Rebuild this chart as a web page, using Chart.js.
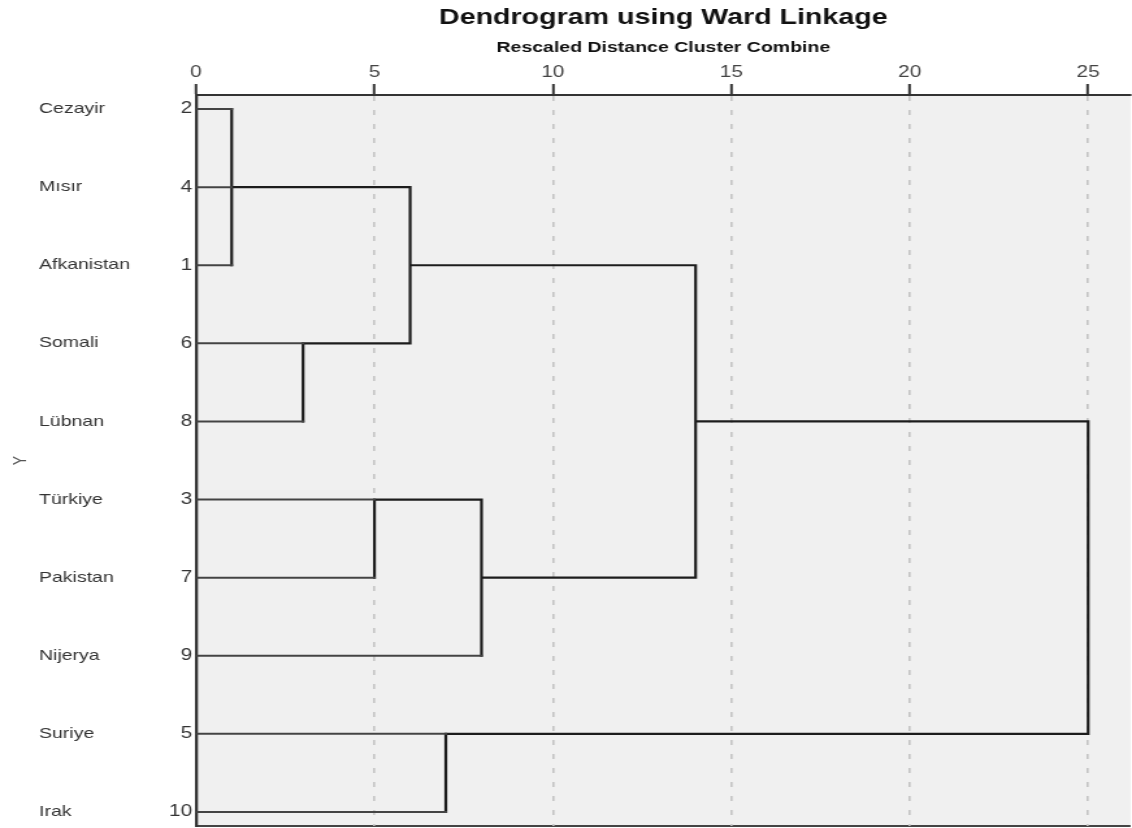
<!DOCTYPE html>
<html lang="tr">
<head>
    <meta charset="UTF-8">
    <title>Dendrogram using Ward Linkage</title>
    <script src="https://cdn.jsdelivr.net/npm/chart.js"></script>
    <style>
        html, body {
            margin: 0;
            padding: 0;
            overflow: hidden;
            background: #ffffff;
        }

        /* the original picture is stretched sideways, so the chart is drawn narrow and scaled */
        .wrap {
            width: 871px;
            height: 828px;
            transform: scaleX(1.2997);
            transform-origin: 0 0;
        }
    </style>
</head>
<body>
<div class="wrap">
    <canvas id="dendro"></canvas>
</div>

<script>
    // Cases in the order SPSS lists them
    const caseNames = ['Cezayir', 'Mısır', 'Afkanistan', 'Somali', 'Lübnan', 'Türkiye', 'Pakistan', 'Nijerya', 'Suriye', 'Irak'];
    const caseNumbers = [2, 4, 1, 6, 8, 3, 7, 9, 5, 10];
    // Rescaled distance where each case first joins a cluster
    const leafDistance = [1, 1, 1, 3, 3, 5, 5, 8, 7, 7];

    // Merge steps: distance, rows joined by the vertical line,
    // row that carries the new cluster, and distance of its next merge
    const mergeDistance = [1, 3, 6, 5, 8, 14, 7, 25];
    const mergeTop = [0, 3, 1, 5, 5, 2, 8, 4];
    const mergeBottom = [2, 4, 3, 6, 7, 6, 9, 8];
    const mergeRow = [1, 3, 2, 5, 6, 4, 8, null];
    const mergeNext = [6, 6, 14, 8, 14, 25, 25, null];

    const xTicks = [0, 5, 10, 15, 20, 25];

    const gap = {x: null, y: null};

    function leafLines() {
        const pts = [];
        caseNames.forEach((n, row) => {
            pts.push({x: 0, y: row}, {x: leafDistance[row], y: row}, gap);
        });
        return pts;
    }

    function mergeLines() {
        const pts = [];
        mergeDistance.forEach((d, i) => {
            pts.push({x: d, y: mergeTop[i]}, {x: d, y: mergeBottom[i]}, gap);
            if (mergeNext[i] !== null) {
                pts.push({x: d, y: mergeRow[i]}, {x: mergeNext[i], y: mergeRow[i]}, gap);
            }
        });
        return pts;
    }

    const rowTicks = scale => {
        scale.ticks = caseNames.map((n, i) => ({value: i}));
    };

    // fixed axis width, and no extra padding for the end labels
    const fixWidth = w => scale => {
        scale.width = w;
        scale.paddingTop = 0;
        scale.paddingBottom = 0;
    };

    // grey plot background and the bottom frame line
    const plotBackground = {
        id: 'plotBackground',
        beforeDraw(chart) {
            const {ctx, chartArea: a} = chart;
            ctx.save();
            ctx.fillStyle = '#f0f0f0';
            ctx.fillRect(a.left, a.top, a.right - a.left, a.bottom - a.top);
            ctx.strokeStyle = '#444444';
            ctx.lineWidth = 2;
            ctx.beginPath();
            ctx.moveTo(a.left, a.bottom);
            ctx.lineTo(a.right, a.bottom);
            ctx.stroke();
            ctx.restore();
        }
    };

    Chart.defaults.font.family = "'Liberation Sans', Arial, sans-serif";
    Chart.defaults.color = '#333333';

    new Chart(document.getElementById('dendro'), {
        type: 'scatter',
        data: {
            datasets: [
                {
                    label: 'leaves',
                    data: leafLines(),
                    showLine: true,
                    spanGaps: false,
                    borderColor: '#444444',
                    borderWidth: 2,
                    borderCapStyle: 'square',
                    pointRadius: 0
                },
                {
                    label: 'merges',
                    data: mergeLines(),
                    showLine: true,
                    spanGaps: false,
                    borderColor: '#1c1c1c',
                    borderWidth: 2.2,
                    borderCapStyle: 'square',
                    pointRadius: 0
                }
            ]
        },
        options: {
            responsive: true,
            maintainAspectRatio: false,
            animation: false,
            events: [],
            layout: {padding: {top: 0, right: 0, bottom: 2, left: 0}},
            plugins: {
                legend: {display: false},
                tooltip: {enabled: false},
                title: {
                    display: true,
                    text: 'Dendrogram using Ward Linkage',
                    fullSize: false,
                    color: '#111111',
                    font: {size: 22, weight: 'bold'},
                    padding: {top: 5, bottom: 7}
                },
                subtitle: {
                    display: true,
                    text: 'Rescaled Distance Cluster Combine',
                    fullSize: false,
                    color: '#111111',
                    font: {size: 15, weight: 'bold'},
                    padding: {top: 0, bottom: 0}
                }
            },
            scales: {
                x: {
                    type: 'linear',
                    position: 'top',
                    min: 0,
                    max: 26.19,
                    afterBuildTicks: scale => {
                        scale.ticks = xTicks.map(v => ({value: v}));
                    },
                    afterFit: scale => {
                        scale.height = 38.6;
                        scale.paddingLeft = 0;
                        scale.paddingRight = 0;
                    },
                    ticks: {
                        font: {size: 16},
                        color: '#444444',
                        padding: 2,
                        maxRotation: 0
                    },
                    grid: {
                        color: ctx => (ctx.tick && ctx.tick.value === 0) ? 'rgba(0,0,0,0)' : '#c4c4c4',
                        lineWidth: 1.6,
                        tickColor: '#333333',
                        tickWidth: 2,
                        tickLength: 11
                    },
                    border: {
                        color: '#333333',
                        width: 2,
                        dash: [5, 9]
                    }
                },
                y: {
                    type: 'linear',
                    position: 'left',
                    weight: 0,
                    reverse: true,
                    min: -0.18,
                    max: 9.18,
                    afterBuildTicks: rowTicks,
                    afterFit: fixWidth(30.8),
                    ticks: {
                        callback: v => caseNumbers[v],
                        font: {size: 16},
                        color: '#333333',
                        padding: 3
                    },
                    grid: {display: false, drawTicks: false},
                    border: {color: '#333333', width: 2.3}
                },
                yName: {
                    type: 'linear',
                    axis: 'y',
                    position: 'left',
                    weight: 1,
                    reverse: true,
                    min: -0.18,
                    max: 9.18,
                    afterBuildTicks: rowTicks,
                    afterFit: fixWidth(90),
                    ticks: {
                        callback: v => caseNames[v],
                        crossAlign: 'far',
                        font: {size: 15},
                        color: '#333333'
                    },
                    grid: {display: false, drawTicks: false},
                    border: {display: false}
                },
                yTitle: {
                    type: 'linear',
                    axis: 'y',
                    position: 'left',
                    weight: 2,
                    min: 0,
                    max: 1,
                    afterFit: fixWidth(30),
                    ticks: {display: false},
                    grid: {display: false, drawTicks: false},
                    border: {display: false},
                    title: {
                        display: true,
                        text: 'Y',
                        color: '#555555',
                        font: {size: 14},
                        padding: {top: 8, bottom: 0}
                    }
                }
            }
        },
        plugins: [plotBackground]
    });
</script>
</body>
</html>
